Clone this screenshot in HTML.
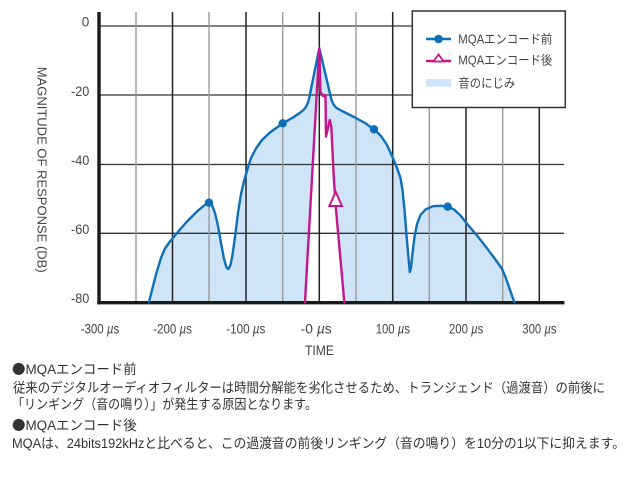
<!DOCTYPE html>
<html>
<head>
<meta charset="utf-8">
<style>
  html,body{margin:0;padding:0;background:#fff;}
  svg{display:block;}
  .lbl{font-family:"Liberation Sans","Noto Sans CJK JP",sans-serif;fill:#444;}
  .jp{font-family:"Liberation Sans","Noto Sans CJK JP",sans-serif;fill:#333;}
  .cjk{font-family:"Noto Sans CJK JP",sans-serif;}
</style>
</head>
<body>
<svg width="640" height="485" viewBox="0 0 640 485" xmlns="http://www.w3.org/2000/svg">
  <rect x="0" y="0" width="640" height="485" fill="#fff"/>

  <!-- fill area under blue curve -->
  <polygon fill="#cfe4f6" points="149,302 153,286 157,271 161,258 165,248.5 170,241.5 177,233 187,221.5 197,211.5 204,205.5 209,202.7 212,205 215,213 218,226 221,243 224,259 226.5,267.5 228.5,269 230.5,265 232.5,255 235,237 238,213 241,194 244,181 247.5,169 251,158 256,148.5 262,140 270,132.5 282.7,123.3 293,117.5 301,112 304.5,109 307,105 308.8,100 319.3,48.3 331.5,100 333.5,104.5 336.5,108 343,111.5 355,117.5 365,123 374,129.3 381,136 387,145 392,156 397,168 400.5,178 402.5,190 404.5,210 406.5,235 408.5,258 409.8,272 411,268 412.5,253 414.5,237 417,224 420.5,215 425.5,209.5 433,206.2 441,205.8 447.7,206.7 454,209.5 460,215 468,225 477,235.5 486,247 495,259 501.7,268.3 505.5,277 510,290 514.3,302"/>
  <!-- white region under magenta -->
  <polygon fill="#fff" points="305,302 319.3,48.3 320.5,92 322.5,95.5 325.5,97 326,136.5 329.8,120 331.3,127 333.8,178 335.7,206 344.3,302"/>

  <!-- horizontal grid lines -->
  <g stroke="#333" stroke-width="1.3">
    <line x1="99" y1="26" x2="564" y2="26"/>
    <line x1="99" y1="95" x2="564" y2="95"/>
    <line x1="99" y1="164.5" x2="564" y2="164.5"/>
    <line x1="99" y1="233.3" x2="564" y2="233.3"/>
  </g>
  <!-- vertical grid: gray -->
  <g stroke="#9a9a9a" stroke-width="1.4">
    <line x1="136" y1="12" x2="136" y2="302"/>
    <line x1="209" y1="12" x2="209" y2="302"/>
    <line x1="282.7" y1="12" x2="282.7" y2="302"/>
    <line x1="356" y1="12" x2="356" y2="302"/>
    <line x1="429.3" y1="12" x2="429.3" y2="302"/>
    <line x1="502.7" y1="12" x2="502.7" y2="302"/>
  </g>
  <!-- vertical grid: dark -->
  <g stroke="#222" stroke-width="1.5">
    <line x1="172.5" y1="12" x2="172.5" y2="302"/>
    <line x1="246" y1="12" x2="246" y2="302"/>
    <line x1="319.3" y1="12" x2="319.3" y2="302"/>
    <line x1="392.7" y1="12" x2="392.7" y2="302"/>
    <line x1="466" y1="12" x2="466" y2="302"/>
    <line x1="539.3" y1="12" x2="539.3" y2="302"/>
  </g>
  <!-- axes -->
  <line x1="99" y1="12" x2="99" y2="304.3" stroke="#1a1a1a" stroke-width="3.4"/>
  <line x1="97.3" y1="302.7" x2="564.5" y2="302.7" stroke="#1a1a1a" stroke-width="3.4"/>

  <!-- blue curve -->
  <polyline fill="none" stroke="#0d6fb8" stroke-width="2.4" stroke-linejoin="round" stroke-linecap="round" points="149,302 153,286 157,271 161,258 165,248.5 170,241.5 177,233 187,221.5 197,211.5 204,205.5 209,202.7 212,205 215,213 218,226 221,243 224,259 226.5,267.5 228.5,269 230.5,265 232.5,255 235,237 238,213 241,194 244,181 247.5,169 251,158 256,148.5 262,140 270,132.5 282.7,123.3 293,117.5 301,112 304.5,109 307,105 308.8,100 319.3,48.3 331.5,100 333.5,104.5 336.5,108 343,111.5 355,117.5 365,123 374,129.3 381,136 387,145 392,156 397,168 400.5,178 402.5,190 404.5,210 406.5,235 408.5,258 409.8,272 411,268 412.5,253 414.5,237 417,224 420.5,215 425.5,209.5 433,206.2 441,205.8 447.7,206.7 454,209.5 460,215 468,225 477,235.5 486,247 495,259 501.7,268.3 505.5,277 510,290 514.3,302"/>
  <g fill="#0d6fb8">
    <circle cx="209" cy="202.7" r="4.2"/>
    <circle cx="282.7" cy="123.3" r="4.2"/>
    <circle cx="374" cy="129.3" r="4.2"/>
    <circle cx="447.7" cy="206.7" r="4.2"/>
  </g>

  <!-- magenta curve -->
  <polyline fill="none" stroke="#c4168c" stroke-width="2.4" stroke-linejoin="round" stroke-linecap="round" points="305,302 319.3,48.3 320.5,92 322.5,95.5 325.5,97 326,136.5 329.8,120 331.3,127 333.8,178 335.7,206 344.3,302"/>
  <circle cx="324" cy="95.5" r="1.8" fill="#c4168c"/>
  <polygon points="335.7,191.7 329.4,206 342,206" fill="#fff" stroke="#c4168c" stroke-width="2"/>

  <!-- legend -->
  <rect x="412.3" y="11" width="153" height="96.5" fill="#fff" stroke="#333" stroke-width="1.5"/>
  <line x1="426" y1="39" x2="451" y2="39" stroke="#0d6fb8" stroke-width="2.6"/>
  <circle cx="438.5" cy="39" r="4.3" fill="#0d6fb8"/>
  <text class="lbl" x="458.3" y="43.5" font-size="12.5" textLength="94" lengthAdjust="spacingAndGlyphs">MQAエンコード前</text>
  <line x1="426" y1="61" x2="451" y2="61" stroke="#c4168c" stroke-width="2.4"/>
  <polygon points="438.5,54.5 433.3,61.5 443.7,61.5" fill="#fff" stroke="#c4168c" stroke-width="1.8"/>
  <text class="lbl" x="458.3" y="64.5" font-size="12.5" textLength="94" lengthAdjust="spacingAndGlyphs">MQAエンコード後</text>
  <rect x="426" y="79" width="25" height="7.7" fill="#cfe4f6"/>
  <text class="lbl" x="458.3" y="87.5" font-size="12.5" textLength="57" lengthAdjust="spacingAndGlyphs">音のにじみ</text>

  <!-- y tick labels -->
  <g class="lbl" font-size="13.5" text-anchor="end">
    <text x="89.3" y="26.7">0</text>
    <text x="89.3" y="96" textLength="18.3" lengthAdjust="spacingAndGlyphs">-20</text>
    <text x="89.3" y="165" textLength="18.3" lengthAdjust="spacingAndGlyphs">-40</text>
    <text x="89.3" y="234" textLength="18.3" lengthAdjust="spacingAndGlyphs">-60</text>
    <text x="89.3" y="303" textLength="18.3" lengthAdjust="spacingAndGlyphs">-80</text>
  </g>
  <!-- y axis title -->
  <text class="lbl" font-size="13" transform="translate(37.5,66.7) rotate(90)" textLength="206" lengthAdjust="spacingAndGlyphs">MAGNITUDE OF RESPONSE  (DB)</text>

  <!-- x tick labels -->
  <g class="lbl" font-size="13.5">
    <text x="80.7" y="333.3" textLength="38.6" lengthAdjust="spacingAndGlyphs">-300 <tspan font-style="italic">µ</tspan>s</text>
    <text x="153.3" y="333.3" textLength="38.6" lengthAdjust="spacingAndGlyphs">-200 <tspan font-style="italic">µ</tspan>s</text>
    <text x="226.3" y="333.3" textLength="39" lengthAdjust="spacingAndGlyphs">-100 <tspan font-style="italic">µ</tspan>s</text>
    <text x="300.7" y="333.3" textLength="31" lengthAdjust="spacingAndGlyphs">-0 <tspan font-style="italic">µ</tspan>s</text>
    <text x="375.7" y="333.3" textLength="34.3" lengthAdjust="spacingAndGlyphs">100 <tspan font-style="italic">µ</tspan>s</text>
    <text x="449" y="333.3" textLength="34.3" lengthAdjust="spacingAndGlyphs">200 <tspan font-style="italic">µ</tspan>s</text>
    <text x="522.3" y="333.3" textLength="34.3" lengthAdjust="spacingAndGlyphs">300 <tspan font-style="italic">µ</tspan>s</text>
    <text x="305" y="355" textLength="29" lengthAdjust="spacingAndGlyphs">TIME</text>
  </g>

  <!-- bottom description -->
  <g class="jp" font-size="13.5">
    <text x="12" y="374" textLength="124.7" lengthAdjust="spacingAndGlyphs"><tspan class="cjk">●</tspan>MQAエンコード前</text>
    <text x="13" y="392.3" textLength="592" lengthAdjust="spacingAndGlyphs">従来のデジタルオーディオフィルターは時間分解能を劣化させるため、トランジェンド（過渡音）の前後に</text>
    <text x="12" y="409" textLength="305" lengthAdjust="spacingAndGlyphs">「リンギング（音の鳴り）」が発生する原因となります。</text>
    <text x="12" y="430" textLength="124.7" lengthAdjust="spacingAndGlyphs"><tspan class="cjk">●</tspan>MQAエンコード後</text>
    <text x="12" y="448" textLength="613" lengthAdjust="spacingAndGlyphs">MQAは、24bits192kHzと比べると、この過渡音の前後リンギング（音の鳴り）を10分の1以下に抑えます。</text>
  </g>
</svg>
</body>
</html>
